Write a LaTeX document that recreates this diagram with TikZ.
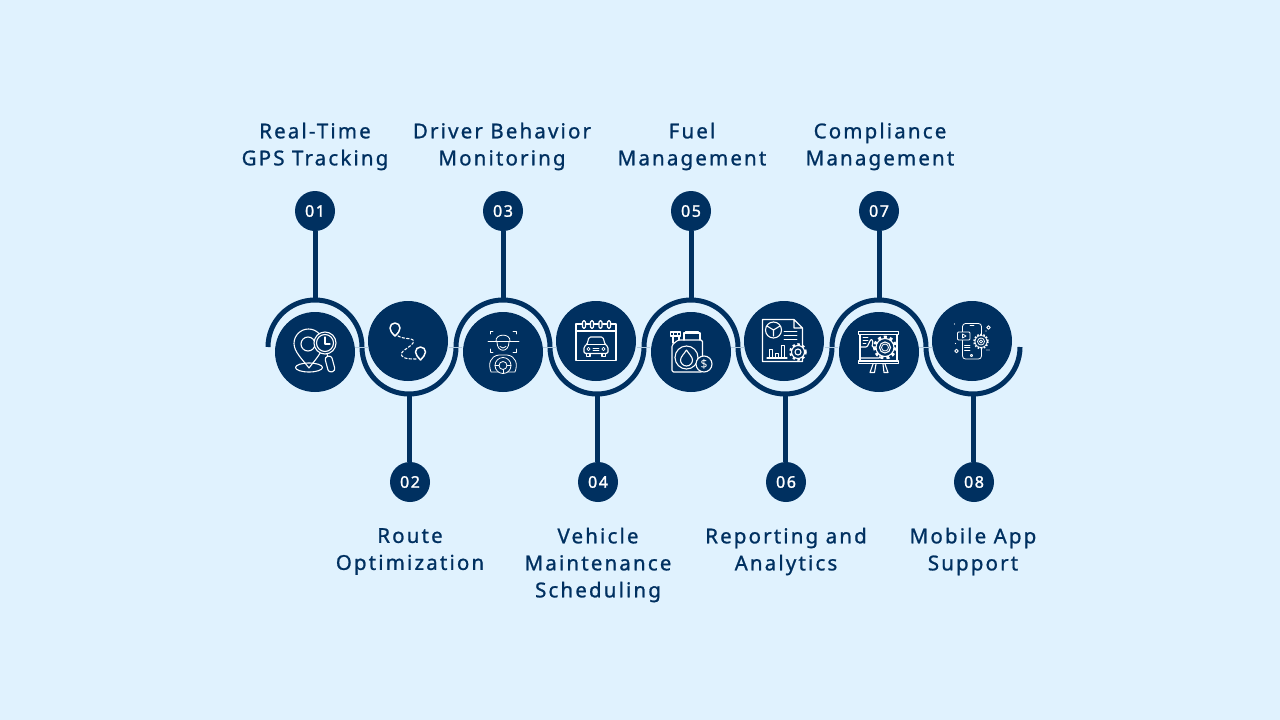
\documentclass[tikz,border=0pt]{standalone}
\usepackage{fontspec}
\setmainfont{Noto Sans}
\newfontfamily\capfont{Noto Sans}[LetterSpace=10.5,FakeBold=1]
\newfontfamily\numfont{Noto Sans}[LetterSpace=10,FakeBold=1.5]
\usetikzlibrary{positioning}
\definecolor{navy}{HTML}{003060}
\definecolor{pale}{HTML}{E0F2FE}
\tikzset{
  bigdisc/.style={circle, fill=navy, minimum size=80pt, inner sep=0pt},
  badge/.style={circle, fill=navy, minimum size=40pt, inner sep=0pt, text=white, font=\fontsize{16}{16}\numfont},
  caption/.style={align=center, text=navy, inner sep=0pt, font=\fontsize{20.5}{27}\capfont},
  stem/.style={draw=navy, line width=5pt},
  wave/.style={draw=navy, line width=5pt},
  seam/.style={draw=pale!80!navy, line width=.7pt},
  icon/.style={draw=white, line width=1.1pt, line join=round, line cap=round},
  thin icon/.style={icon, line width=.8pt}
}
\begin{document}
\begin{tikzpicture}[x=1pt, y=-1pt]
    \useasboundingbox[fill=pale] (0,0) rectangle (1280,720);
    % wavy ribbon
    \coordinate (ws) at (268,347);
    \draw[wave] (ws) arc (180:360:47) arc (180:0:47) arc (180:360:47) arc (180:0:47)
    arc (180:360:47) arc (180:0:47) arc (180:360:47) arc (180:0:47);
    % seams where the arcs meet
    \draw[seam] (355,347) -- (368,347); \draw[seam] (449,347) -- (462,347);
    \draw[seam] (543,347) -- (556,347); \draw[seam] (637,347) -- (650,347);
    \draw[seam] (731,347) -- (744,347); \draw[seam] (825,347) -- (838,347);
    \draw[seam] (919,347) -- (932,347);
    % discs
    \node (c1) at (315,352) [bigdisc] {}; \node (c2) at (408,341) [bigdisc] {};
    \node (c3) at (503,352) [bigdisc] {}; \node (c4) at (596,341) [bigdisc] {};
    \node (c5) at (691,352) [bigdisc] {}; \node (c6) at (784,341) [bigdisc] {};
    \node (c7) at (879,352) [bigdisc] {}; \node (c8) at (972,341) [bigdisc] {};
    % badges
    \node (b1) at (315,211) [badge] {01}; \node (b2) at (410,482) [badge] {02};
    \node (b3) at (503,211) [badge] {03}; \node (b4) at (598,482) [badge] {04};
    \node (b5) at (691,211) [badge] {05}; \node (b6) at (786,482) [badge] {06};
    \node (b7) at (879,211) [badge] {07}; \node (b8) at (974,482) [badge] {08};
    % stems
    \coordinate (s1) at (315,300); \coordinate (s2) at (409,394);
    \coordinate (s3) at (503,300); \coordinate (s4) at (597,394);
    \coordinate (s5) at (691,300); \coordinate (s6) at (785,394);
    \coordinate (s7) at (879,300); \coordinate (s8) at (973,394);
    \draw[stem] (b1.south) -- (s1); \draw[stem] (b3.south) -- (s3);
    \draw[stem] (b5.south) -- (s5); \draw[stem] (b7.south) -- (s7);
    \draw[stem] (b2.north -| s2) -- (s2); \draw[stem] (b4.north -| s4) -- (s4);
    \draw[stem] (b6.north -| s6) -- (s6); \draw[stem] (b8.north -| s8) -- (s8);
    % captions
    \node (t1) at (315,146.5) [caption] {Real-Time\\GPS Tracking};
    \node (t2) at (410,551.5) [caption] {Route\\Optimization};
    \node (t3) at (502,146.5) [caption] {Driver Behavior\\Monitoring};
    \node (t4) at (598,565) [caption] {Vehicle\\Maintenance\\Scheduling};
    \node (t5) at (692,146.5) [caption] {Fuel\\Management};
    \node (t6) at (786,551.5) [caption] {Reporting and\\Analytics};
    \node (t7) at (880,146.5) [caption] {Compliance\\Management};
    \node (t8) at (973,551.5) [caption] {Mobile App\\Support};
    % icon 1, pin and lens
    \draw[icon] (309,368) .. controls (303,360) and (294,352) .. (294,343.5)
    arc (180:360:14.5) .. controls (323,352) and (315,360) .. (309,368);
    \draw[icon] (308,344) circle (7);
    \draw[icon] (309,367.5) ellipse (13.5 and 4.5);
    \draw[icon, fill=navy] (325,343) circle (11);
    \draw[icon] (325,343) circle (8.5);
    \draw[icon] (325,337) -- (325,344) -- (330,344);
    \draw[icon] (327,354) -- (328,357);
    \draw[icon, fill=navy, rounded corners=3pt, rotate around={15:(330,364)}] (326.5,356) rectangle (333.5,372);
    % icon 2, route
    \draw[icon, line width=1.5pt] (395,336) .. controls (392,333) and (390,331) .. (390,328)
    arc (180:360:5) .. controls (400,331) and (398,333) .. (395,336);
    \draw[icon, line width=1.5pt] (420.5,360) .. controls (418,357) and (415.5,355) .. (415.5,352)
    arc (180:360:5) .. controls (425.5,355) and (423,357) .. (420.5,360);
    \draw[icon, dashed, dash pattern=on 2.5pt off 2pt] (398,336) .. controls (405,340) and (416,337) .. (413,343)
    .. controls (411,347) and (398,352) .. (402,356) .. controls (404,359) and (410,359) .. (416,359);
    % icon 3, driver
    \draw[thin icon] (490,334) -- (490,331.5) -- (493,331.5) (513,331.5) -- (516,331.5) -- (516,334);
    \draw[thin icon] (490,349) -- (490,352) -- (493,352) (513,352) -- (516,352) -- (516,349);
    \draw[thin icon] (488,341.5) -- (519,341.5);
    \draw[thin icon] (496,341.5) .. controls (495,333) and (511,333) .. (510,341.5);
    \draw[thin icon] (497,342) .. controls (497,353) and (509,353) .. (509,342);
    \draw[thin icon] (500,346.5) .. controls (502,348.5) and (504,348.5) .. (506,346.5);
    \draw[thin icon] (491,372) .. controls (488,364) and (490,356) .. (499,355) -- (507,355)
    .. controls (516,356) and (518,364) .. (515,372) -- cycle;
    \draw[thin icon, fill=navy] (503,365.5) circle (8);
    \draw[thin icon] (503,365.5) circle (4);
    \draw[thin icon] (495,365.5) -- (499,365.5) (507,365.5) -- (511,365.5) (503,369.5) -- (503,373);
    % icon 4, calendar and car
    \draw[icon] (576,324) rectangle (616,360.5);
    \draw[icon] (576,331) -- (616,331);
    \draw[icon, fill=navy, rounded corners=1.5pt] (582.5,320.5) rectangle (585.5,328.5);
    \draw[icon, fill=navy, rounded corners=1.5pt] (590.5,320.5) rectangle (593.5,328.5);
    \draw[icon, fill=navy, rounded corners=1.5pt] (599,320.5) rectangle (602,328.5);
    \draw[icon, fill=navy, rounded corners=1.5pt] (607.5,320.5) rectangle (610.5,328.5);
    \draw[icon, rounded corners=1.5pt] (584,353.5) -- (584,346.5) -- (587,344.5) -- (589,337) -- (603,337)
    -- (605,344.5) -- (608,346.5) -- (608,353.5) -- cycle;
    \draw[icon] (587,344.5) -- (605,344.5);
    \draw[icon] (586.5,353.5) -- (586.5,356.5) -- (590,356.5) -- (590,353.5);
    \draw[icon] (602,353.5) -- (602,356.5) -- (605.5,356.5) -- (605.5,353.5);
    \draw[thin icon] (588.5,349) circle (1.6); \draw[thin icon] (603.5,349) circle (1.6);
    \draw[thin icon] (593,348) -- (599,348) (593,350.5) -- (599,350.5);
    % icon 5, fuel can
    \draw[icon, rounded corners=1.5pt] (672,345) -- (678,340) -- (702.5,340) -- (702.5,372) -- (672,372) -- cycle;
    \draw[icon] (684,340) -- (684,333) -- (700,333) -- (700,340);
    \draw[icon] (686,333) -- (686,331.5) -- (698,331.5) -- (698,333);
    \draw[icon] (670.5,332) -- (680.5,332) -- (680.5,336) -- (670.5,336) -- cycle;
    \draw[thin icon] (673.5,332) -- (673.5,336) (677,332) -- (677,336);
    \draw[icon] (673,336) -- (673,343) (679,336) -- (679,340);
    \draw[icon] (686.5,357.5) circle (11.5);
    \draw[icon] (686.5,350) .. controls (684,354) and (680.5,357) .. (680.5,360)
    arc (180:0:6) .. controls (692.5,357) and (689,354) .. (686.5,350);
    \draw[icon, fill=navy] (704,364) circle (8);
    \node (dollar) at (704,364) [text=white, inner sep=0pt, font=\fontsize{12}{12}\selectfont] {\$};
    % icon 6, report
    \draw[icon] (794,319.5) -- (762.5,319.5) -- (762.5,361.5) -- (802.5,361.5) -- (802.5,328) -- (794,319.5) -- (794,328) -- (802.5,328);
    \draw[icon] (773.5,330) circle (8);
    \draw[icon] (773.5,330) -- (773.5,336) (773.5,330) -- (767,326) (773.5,330) -- (780,326);
    \draw[thin icon] (784,331) -- (797,331) (784,335) -- (797,335) (784,339) -- (797,339);
    \draw[icon] (767,358) -- (787,358);
    \draw[thin icon] (769,358) -- (769,349) -- (772,349) -- (772,358);
    \draw[thin icon] (775,358) -- (775,353.5) -- (778,353.5) -- (778,358);
    \draw[thin icon] (781,358) -- (781,345.5) -- (784,345.5) -- (784,358);
    \draw[icon, fill=navy] (798,352) circle (6.5);
    \draw[icon, line width=2.4pt, line cap=butt, dash pattern=on 2.4pt off 2.6pt] (798,352) circle (7.6);
    \draw[icon] (798,352) circle (3);
    % icon 7, board
    \draw[icon] (858.5,331.5) rectangle (898.5,334.5);
    \draw[icon] (860,334.5) -- (860,361) (897,334.5) -- (897,361);
    \draw[icon] (858.5,361) rectangle (898.5,363.5);
    \draw[icon] (873,364) -- (870,372.5) -- (874.5,372.5) -- (876,364);
    \draw[icon] (883,364) -- (884,372.5) -- (888,372.5) -- (885,364);
    \draw[thin icon] (863,337) -- (868,337) (863,340) -- (868,340) (863,343) -- (866,343);
    \draw[icon, rounded corners=1pt] (861,347) -- (867,347) -- (869,343) -- (871,339) -- (873,341) -- (872,347) -- (880,347)
    -- (880,358) -- (867,358) -- (861,358);
    \draw[icon, fill=navy] (885,347.5) circle (9);
    \draw[icon, line width=3pt, line cap=butt, dash pattern=on 3pt off 3pt] (885,347.5) circle (10.5);
    \draw[icon] (885,347.5) circle (5.5);
    \draw[thin icon] (885,347.5) circle (3.5);
    % icon 8, phone
    \draw[thin icon, rounded corners=3pt] (962.5,323.5) rectangle (981.5,359);
    \draw[thin icon] (970,325.5) -- (974,325.5);
    \draw[thin icon] (971.5,355.5) circle (1.2);
    \draw[thin icon, fill=navy, rounded corners=1pt] (957.5,332) rectangle (970,340);
    \draw[thin icon] (962.5,334) -- (966,336) -- (962.5,338) -- cycle;
    \draw[thin icon] (964.5,345) -- (970,345) (964.5,347.5) -- (970,347.5) (964.5,350) -- (970,350);
    \draw[thin icon, fill=navy] (981,341.5) circle (6);
    \draw[thin icon, line width=1.6pt, line cap=butt, dash pattern=on 1.6pt off 1.6pt] (981,341.5) circle (7);
    \draw[thin icon] (981,341.5) circle (3.5);
    \draw[thin icon] (981,341.5) circle (1.6);
    \draw[thin icon] (988.5,327.5) circle (1.8);
    \draw[thin icon] (956.5,351) circle (1.8);
    \fill[white] (954.5,324) circle (.6) (955.5,343.5) circle (.6) (987,350) circle (.6) (986,331) circle (.6) (989,350) circle (.6);
\end{tikzpicture}
\end{document}
